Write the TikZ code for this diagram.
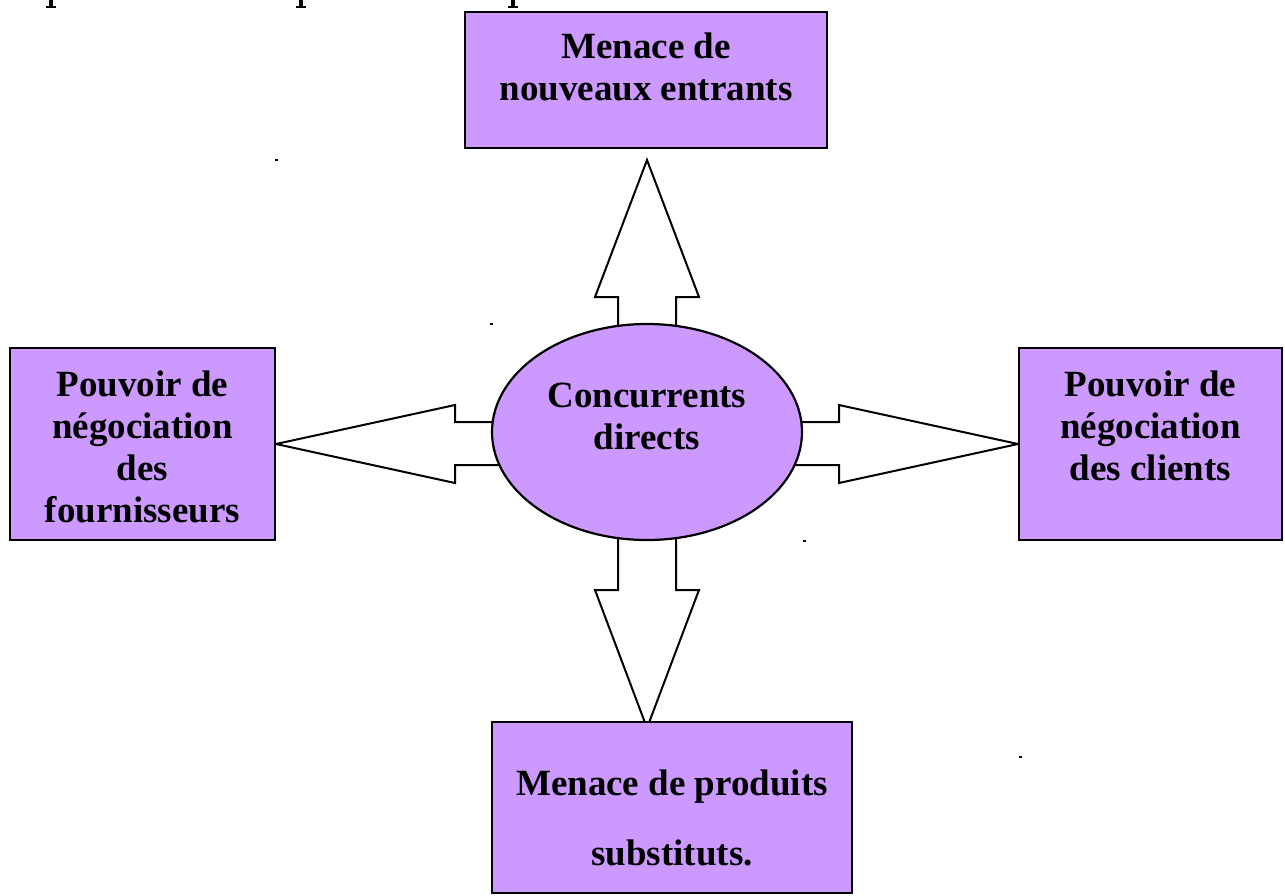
\documentclass[tikz,border=0pt]{standalone}
\usepackage{fontspec}
\setmainfont{Liberation Serif}
\usetikzlibrary{shapes.geometric}
\definecolor{lavender}{RGB}{204,153,255}
\tikzset{
  forcebox/.style={draw=black, line width=2.5pt, fill=lavender, rectangle, inner sep=0pt},
  rivals/.style={draw=black, line width=2.2pt, fill=lavender, ellipse, inner sep=0pt,
                 minimum width=310pt, minimum height=216pt},
  blockarrow/.style={draw=black, line width=2pt, fill=white, line join=miter},
  lbl/.style={font=\bfseries\fontsize{37}{42}\selectfont, inner sep=0pt, anchor=base},
  speck/.style={fill=black, draw=none}
}
\newcommand{\stack}[1]{\begin{tabular}[t]{@{}c@{}}#1\end{tabular}}
\begin{document}
\begin{tikzpicture}[x=1pt,y=-1pt]
  \useasboundingbox (0,0) rectangle (1285,895);

  % descenders of the line of text cut off at the top edge
  \foreach \dx in {51,301,513} {
    \fill (\dx-2,0) rectangle (\dx+2,7);
    \fill (\dx-5,5.5) rectangle (\dx+5,7.5);
  }

  % centre of the diagram
  \coordinate (c) at (647,432);

  % block arrows (drawn first, the ellipse covers their shafts)
  \draw[blockarrow] (618,340) -- (618,297) -- (595,297) -- (647,160) -- (699,297) -- (676,297) -- (676,340);
  \draw[blockarrow] (618,525) -- (618,590) -- (595,590) -- (647,728) -- (699,590) -- (676,590) -- (676,525);
  \draw[blockarrow] (505,422) -- (455,422) -- (455,405) -- (276,444) -- (455,483) -- (455,465) -- (505,465);
  \draw[blockarrow] (790,422) -- (839,422) -- (839,405) -- (1018,444) -- (839,483) -- (839,465) -- (790,465);

  % central ellipse
  \node[rivals] (rivals) at (c) {};
  \node[lbl] (rivalsT) at (647,407) {\stack{Concurrents\\directs}};

  % the four forces
  \node[forcebox, minimum width=362pt, minimum height=136pt] (entrants) at (646,80) {};
  \node[lbl] (entrantsT) at (646,58) {\stack{Menace de\\nouveaux entrants}};

  \node[forcebox, minimum width=265pt, minimum height=192pt] (suppliers) at (142.5,444) {};
  \node[lbl] (suppliersT) at (142.5,396) {\stack{Pouvoir de\\négociation\\des\\fournisseurs}};

  \node[forcebox, minimum width=263pt, minimum height=192pt] (clients) at (1150.5,444) {};
  \node[lbl] (clientsT) at (1150.5,396) {\stack{Pouvoir de\\négociation\\des clients}};

  \node[forcebox, minimum width=360pt, minimum height=171pt] (substitutes) at (672,807.5) {};
  \node[lbl] (substitutesT) at (672,795) {\stack{Menace de produits\\[28pt]substituts.}};

  % stray specks
  \fill[speck] (275,159) rectangle (278,161);
  \fill[speck] (490,323) rectangle (493,325);
  \fill[speck] (803,540) rectangle (806,542);
  \fill[speck] (1019,756) rectangle (1022,758);
\end{tikzpicture}
\end{document}
